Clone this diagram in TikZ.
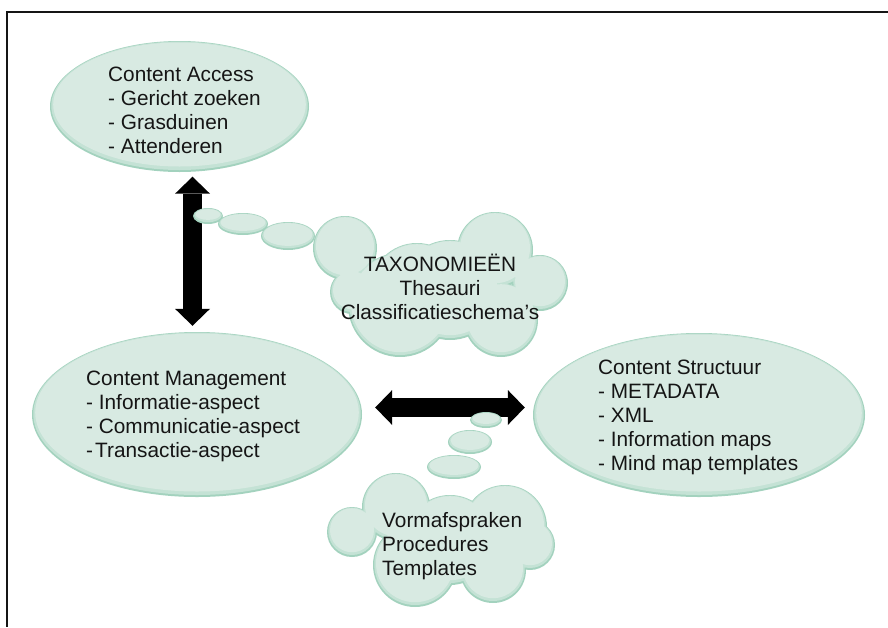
\documentclass[tikz,border=0pt]{standalone}
\usepackage{fontspec}
\setmainfont{Liberation Sans}
\usetikzlibrary{shapes.geometric,arrows.meta}
\definecolor{rimc}{HTML}{A3D2BE}
\definecolor{midc}{HTML}{C4E2D5}
\definecolor{lightc}{HTML}{D8EAE2}
\definecolor{inkc}{HTML}{151515}
\newcommand\mycloud[1]{%
  \fill[rimc] foreach \cx/\cy/\rr in {#1}{ (\cx,\cy) circle[radius={\rr*1pt}] };
  \fill[midc] foreach \cx/\cy/\rr in {#1}{ (\cx,\cy-0.7) circle[radius={(\rr-1.3)*1pt}] };
  \fill[lightc] foreach \cx/\cy/\rr in {#1}{ (\cx,\cy-1.8) circle[radius={(\rr-3)*1pt}] };
}
\newcommand\mybubbles[1]{%
  \fill[rimc] foreach \cx/\cy/\rx/\ry in {#1}{ (\cx,\cy) ellipse[x radius={\rx*1pt}, y radius={\ry*1pt}] };
  \fill[midc] foreach \cx/\cy/\rx/\ry in {#1}{ (\cx,\cy-0.6) ellipse[x radius={(\rx-1.2)*1pt}, y radius={(\ry-1.2)*1pt}] };
  \fill[lightc] foreach \cx/\cy/\rx/\ry in {#1}{ (\cx,\cy-1.5) ellipse[x radius={(\rx-2.6)*1pt}, y radius={(\ry-2.6)*1pt}] };
}
\newcommand\myoval[3]{% node, rx, ry
  \fill[midc] ([yshift=0.7pt]#1.center) ellipse[x radius={(#2-1.3)*1pt}, y radius={(#3-1.3)*1pt}];
  \fill[lightc] ([yshift=2pt]#1.center) ellipse[x radius={(#2-3.2)*1pt}, y radius={(#3-3.5)*1pt}];
}
\tikzset{
  oval/.style={ellipse, fill=rimc, inner sep=0pt},
  lbl/.style={font=\fontsize{20.8}{24}\selectfont, text=inkc, inner sep=0pt},
  bigarrow/.style={line width=19pt, draw=black,
    {Triangle[width=35pt,length=17pt,line width=0pt]}-{Triangle[width=35pt,length=17pt,line width=0pt]}},
  frame/.style={line width=2pt, draw=inkc}
}
\begin{document}
\begin{tikzpicture}[x=1pt,y=-1pt]
\useasboundingbox (0,0) rectangle (888,627);
% frame
\coordinate (f1) at (888,12);
\coordinate (f2) at (7,12);
\coordinate (f3) at (7,627);
\draw[frame] (f1) -- (f2) -- (f3);
% ellipses
\node[oval, minimum width=259pt, minimum height=131pt] (ca) at (179.5,106.5) {};
\myoval{ca}{129.5}{65.5}
\node[oval, minimum width=330pt, minimum height=165pt] (cm) at (197,414.5) {};
\myoval{cm}{165}{82.5}
\node[oval, minimum width=332pt, minimum height=164pt] (cs) at (699,415) {};
\myoval{cs}{166}{82}
% clouds
\mycloud{345/248/32, 417/290/47, 495/250/38, 540/283/28, 501/320/37, 400/305/52, 352/292/22, 450/290/50}
\mycloud{352/532/25, 396/507/34, 505/527/42, 530/545/25, 415/565/42, 493/570/33, 450/540/45}
% arrows
\draw[bigarrow, shorten <=4.5pt, shorten >=6pt] ([xshift=13pt]ca.south) -- ([xshift=-4.5pt]cm.north);
\draw[bigarrow, shorten <=13pt, shorten >=8pt] ([yshift=7pt]cm.east) -- ([yshift=7.5pt]cs.west);
% thought bubbles
\mybubbles{208/216/15/8, 243/224/25/11, 288/236/27/14}
\mybubbles{486/420/16/8, 470/442/22/12, 454/467/27/12}
% texts
\node[lbl, anchor=west, align=left] (cat) at (108,110) {Content Access\\- Gericht zoeken\\- Grasduinen\\- Attenderen};
\node[lbl, anchor=west, align=left] (cmt) at (86,416) {Content Management\\- Informatie-aspect\\- Communicatie-aspect\\-\kern2pt Transactie-aspect};
\node[lbl, anchor=west, align=left] (cst) at (598,417) {Content Structuur\\- METADATA\\- XML\\- Information maps\\- Mind map templates};
\node[lbl, align=center] (taxt) at (440,287) {TAXONOMIEËN\\Thesauri\\Classificatieschema\char39 s};
\node[lbl, anchor=west, align=left] (vt) at (382,546) {Vormafspraken\\Procedures\\Templates};
\end{tikzpicture}
\end{document}
